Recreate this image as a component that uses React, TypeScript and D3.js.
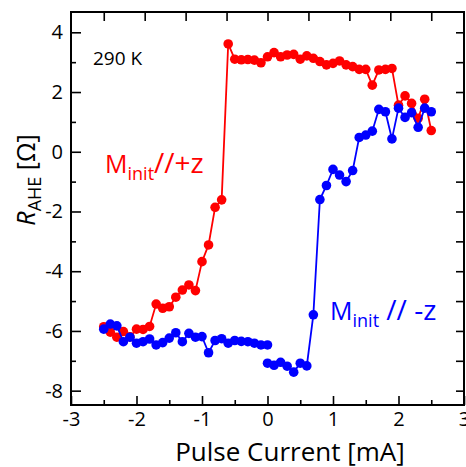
import * as d3 from 'd3';
import { useEffect, useRef } from 'react';

// pulse currents in mA (0.1 mA steps)
const currents = [
  -2.5, -2.4, -2.3, -2.2, -2.1, -2.0, -1.9, -1.8, -1.7, -1.6, -1.5, -1.4, -1.3,
  -1.2, -1.1, -1.0, -0.9, -0.8, -0.7, -0.6, -0.5, -0.4, -0.3, -0.2, -0.1, 0.0,
  0.1, 0.2, 0.3, 0.4, 0.5, 0.6, 0.7, 0.8, 0.9, 1.0, 1.1, 1.2, 1.3, 1.4, 1.5,
  1.6, 1.7, 1.8, 1.9, 2.0, 2.1, 2.2, 2.3, 2.4, 2.5,
];

// M_init // +z
const redValues = [
  -5.86, -6.04, -6.21, -6.02, -6.2, -5.94, -5.95, -5.85, -5.1, -5.24, -5.19,
  -4.87, -4.63, -4.46, -4.65, -3.68, -3.12, -1.86, -1.61, 3.61, 3.1, 3.08, 3.09,
  3.07, 2.98, 3.18, 3.32, 3.18, 3.24, 3.26, 3.1, 3.21, 3.13, 3.02, 2.91, 2.96,
  3.04, 2.91, 2.85, 2.76, 2.76, 2.23, 2.74, 2.76, 2.79, 1.56, 1.87, 1.62, 1.12,
  1.76, 0.71,
];

// M_init // -z, first sweep (-2.5 .. 0) and second sweep (0 .. 2.5)
const blueValuesNeg = [
  -5.94, -5.77, -5.83, -6.36, -6.21, -6.41, -6.36, -6.27, -6.47, -6.39, -6.24,
  -6.06, -6.36, -6.08, -6.21, -6.19, -6.73, -6.32, -6.26, -6.41, -6.32, -6.35,
  -6.36, -6.41, -6.47, -6.47,
];
const blueValuesPos = [
  -7.08, -7.15, -7.05, -7.18, -7.38, -7.08, -7.17, -5.46, -1.6, -1.13, -0.59,
  -0.78, -1.0, -0.63, 0.48, 0.56, 0.69, 1.42, 1.34, 0.43, 1.46, 1.15, 1.31,
  0.82, 1.46, 1.34,
];

const xTicks = [-3, -2, -1, 0, 1, 2, 3];
const xMinorTicks = [-2.5, -1.5, -0.5, 0.5, 1.5, 2.5];
const topTicks = [-2.5, -1.875, -1.25, -0.625, 0, 0.625, 1.25, 1.875, 2.5];
const yTicks = [-8, -6, -4, -2, 0, 2, 4];
const yMinorTicks = [-7, -5, -3, -1, 1, 3];
const yRightTicks = [-8, -7, -6, -5, -4, -3, -2, -1, 0, 1, 2, 3, 4];

const RED = '#ff0000';
const BLUE = '#0000ff';
const FONT = '"Open Sans", Lato, sans-serif';

const W = 466;
const H = 467;
const margin = { top: 12, right: 2, bottom: 62, left: 71 };

export default function App() {
  const ref = useRef<SVGSVGElement>(null);

  useEffect(() => {
    const svg = d3.select(ref.current);
    svg.selectAll('*').remove();

    const iw = W - margin.left - margin.right;
    const ih = H - margin.top - margin.bottom;

    const x = d3.scaleLinear().domain([-3, 3]).range([0, iw]);
    const y = d3.scaleLinear().domain([-8.48, 4.68]).range([ih, 0]);

    const g = svg
      .append('g')
      .attr('transform', `translate(${margin.left},${margin.top})`);

    const styleAxis = (sel: any, labels: boolean) => {
      sel.select('.domain').remove();
      sel.selectAll('line').attr('stroke', '#000').attr('stroke-width', 1.6);
      if (labels) {
        sel
          .selectAll('text')
          .attr('fill', '#000')
          .attr('font-family', FONT)
          .attr('font-size', 20);
      } else {
        sel.selectAll('text').remove();
      }
    };

    const fmt = (d: any) => String(d); // plain hyphen minus like the original

    // bottom
    g.append('g')
      .attr('transform', `translate(0,${ih})`)
      .call(d3.axisBottom(x).tickValues(xTicks).tickSize(-9).tickPadding(7).tickFormat(fmt))
      .call((s) => styleAxis(s, true));
    g.append('g')
      .attr('transform', `translate(0,${ih})`)
      .call(d3.axisBottom(x).tickValues(xMinorTicks).tickSize(-5))
      .call((s) => styleAxis(s, false));

    // top
    g.append('g')
      .call(d3.axisTop(x).tickValues(topTicks).tickSize(-9))
      .call((s) => styleAxis(s, false));

    // left
    g.append('g')
      .call(d3.axisLeft(y).tickValues(yTicks).tickSize(-10).tickPadding(8).tickFormat(fmt))
      .call((s) => styleAxis(s, true));
    g.append('g')
      .call(d3.axisLeft(y).tickValues(yMinorTicks).tickSize(-5))
      .call((s) => styleAxis(s, false));

    // right
    g.append('g')
      .attr('transform', `translate(${iw},0)`)
      .call(d3.axisRight(y).tickValues(yRightTicks).tickSize(-8))
      .call((s) => styleAxis(s, false));

    // frame
    g.append('rect')
      .attr('width', iw)
      .attr('height', ih)
      .attr('fill', 'none')
      .attr('stroke', '#000')
      .attr('stroke-width', 2);

    const series = [
      { xs: currents, ys: redValues, color: RED },
      { xs: currents.slice(0, blueValuesNeg.length), ys: blueValuesNeg, color: BLUE },
      { xs: currents.slice(currents.length - blueValuesPos.length), ys: blueValuesPos, color: BLUE },
    ];

    const line = d3
      .line<[number, number]>()
      .x((d) => x(d[0]))
      .y((d) => y(d[1]));

    series.forEach((s) => {
      const pts: [number, number][] = s.xs.map((v, i) => [v, s.ys[i]]);
      g.append('path')
        .datum(pts)
        .attr('d', line)
        .attr('fill', 'none')
        .attr('stroke', s.color)
        .attr('stroke-width', 1.8);
      g.selectAll(null)
        .data(pts)
        .enter()
        .append('circle')
        .attr('cx', (d) => x(d[0]))
        .attr('cy', (d) => y(d[1]))
        .attr('r', 4.8)
        .attr('fill', s.color);
    });

    // annotations
    g.append('text')
      .attr('x', 22)
      .attr('y', 53)
      .attr('font-family', FONT)
      .attr('font-size', 19)
      .attr('fill', '#000')
      .text('290 K');

    const legend = (tx: number, ty: number, color: string, rest: string) => {
      const t = g
        .append('text')
        .attr('x', tx)
        .attr('y', ty)
        .attr('fill', color)
        .attr('font-family', FONT)
        .attr('font-size', 25);
      t.append('tspan').text('M');
      t.append('tspan').attr('dy', 7).attr('font-size', 18).text('init');
      t.append('tspan').attr('dy', -7).attr('font-size', 28).text(rest);
    };
    legend(34, 161, RED, '//+z');
    legend(259, 308, BLUE, ' // -z');

    // axis titles
    svg
      .append('text')
      .attr('x', 290)
      .attr('y', 461)
      .attr('text-anchor', 'middle')
      .attr('font-family', FONT)
      .attr('font-size', 26)
      .attr('fill', '#000')
      .text('Pulse Current [mA]');

    const yl = svg
      .append('text')
      .attr('transform', `translate(35,180) rotate(-90)`)
      .attr('text-anchor', 'middle')
      .attr('font-family', FONT)
      .attr('font-size', 25)
      .attr('fill', '#000');
    yl.append('tspan').attr('font-style', 'italic').text('R');
    yl.append('tspan').attr('dy', 6).attr('font-size', 18).text('AHE');
    yl.append('tspan').attr('dy', -6).text(' [Ω]');
  }, []);

  return (
    <svg
      ref={ref}
      width={W}
      height={H}
      style={{ position: 'absolute', left: 0, top: 0, background: '#fff' }}
    />
  );
}
